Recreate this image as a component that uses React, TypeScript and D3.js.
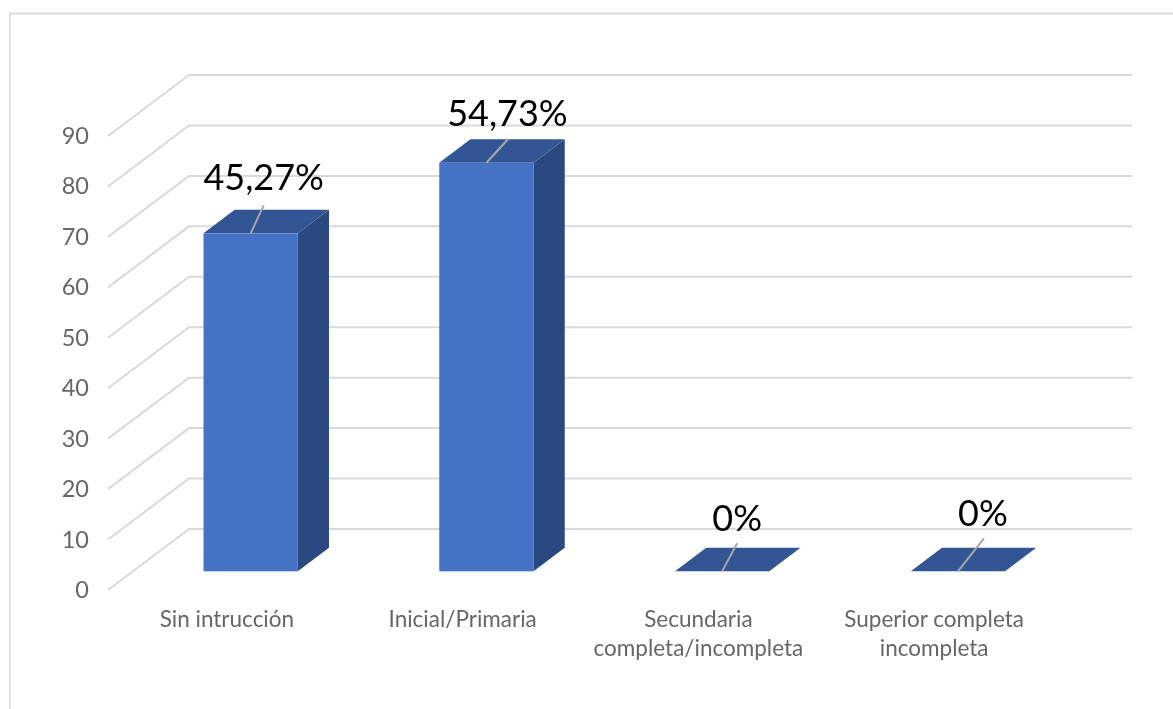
import React, { useEffect, useRef } from 'react';
import * as d3 from 'd3';

const categories = ['Sin intrucción', 'Inicial/Primaria', 'Secundaria completa/incompleta', 'Superior completa incompleta'];
const counts = [67, 81, 0, 0];
const labels = ['45,27%', '54,73%', '0%', '0%'];
const yTicks = [0, 10, 20, 30, 40, 50, 60, 70, 80, 90];

// manual data label placement, relative to the front top centre of each bar
const leaderEnds = [[13, -28], [22, -24], [15, -28], [26, -33]];
const labelShifts = [[13, -55], [21, -49], [15, -52], [25, -57]];

const width = 1173;
const height = 709;

// greedy wrap for the category names
const wrapName = (name: string, maxChars: number) => {
  const rows: string[] = [];
  name.split(' ').forEach(word => {
    const last = rows[rows.length - 1];
    if (last && (last + ' ' + word).length <= maxChars) rows[rows.length - 1] = last + ' ' + word;
    else rows.push(word);
  });
  return rows;
};

const App: React.FC = () => {
  const svgRef = useRef<SVGSVGElement>(null);

  useEffect(() => {
    if (!svgRef.current) return;

    const svg = d3.select(svgRef.current);
    svg.selectAll('*').remove();
    svg.attr('width', width).attr('height', height);

    const font = 'Lato, "Open Sans", sans-serif';

    // the reference is a slightly soft screenshot
    svg.append('defs').append('filter')
      .attr('id', 'soft')
      .attr('x', 0).attr('y', 0).attr('width', '100%').attr('height', '100%')
      .append('feGaussianBlur')
      .attr('stdDeviation', 0.45);

    const root = svg.append('g').attr('filter', 'url(#soft)');

    // chart frame, cut off by the screenshot on the right and bottom
    root.append('path')
      .attr('d', `M9.5,${height}V13.5H${width}`)
      .attr('fill', 'none')
      .attr('stroke', '#d9d9d9')
      .attr('stroke-width', 2);

    // 3D projection of the plot: wall is shifted from the front plane
    const wallDx = 81;
    const wallDy = -61;
    const barDepth = 0.385;
    const barOffset = 0.306;

    const x = d3.scaleBand<string>()
      .domain(categories)
      .range([108, 1051])
      .paddingInner(0.6)
      .paddingOuter(0.3);

    const y = d3.scaleLinear().domain([0, 90]).range([590, 136]);

    // Gridlines
    root.append('g').selectAll('path')
      .data(yTicks)
      .enter().append('path')
      .attr('d', d => `M108,${y(d)}l${wallDx},${wallDy}H1132`)
      .attr('fill', 'none')
      .attr('stroke', '#d9d9d9')
      .attr('stroke-width', 2);

    // Axes
    const yAxis = root.append('g')
      .attr('transform', 'translate(95,0)')
      .call(d3.axisLeft(y).tickValues(yTicks).tickSize(0).tickPadding(6));
    yAxis.select('.domain').remove();
    yAxis.selectAll('text')
      .style('font-family', font)
      .style('font-size', '23.5px')
      .style('fill', '#666666');

    const xAxis = root.append('g')
      .attr('transform', 'translate(1,0)')
      .call(d3.axisBottom(x).tickSize(0));
    xAxis.select('.domain').remove();
    xAxis.selectAll<SVGTextElement, string>('text')
      .style('font-family', font)
      .style('font-size', '22.5px')
      .style('fill', '#666666')
      .attr('y', 0)
      .attr('dy', null)
      .each(function (d) {
        const el = d3.select(this);
        el.text(null);
        wrapName(d, 20).forEach((row, i) => {
          el.append('tspan').attr('x', 0).attr('y', 627 + i * 29).text(row);
        });
      });

    // Bars
    const dx0 = wallDx * barOffset;
    const dy0 = wallDy * barOffset;
    const dx = wallDx * barDepth;
    const dy = wallDy * barDepth;
    const bw = x.bandwidth();

    const bars = root.append('g').selectAll('g')
      .data(categories.map((c, i) => ({ c, value: counts[i], label: labels[i], i })))
      .enter().append('g')
      .attr('transform', d => `translate(${x(d.c)! + dx0},${dy0})`);

    bars.append('path')
      .attr('d', d => `M${bw},${y(d.value)}l${dx},${dy}V${y(0) + dy}l${-dx},${-dy}Z`)
      .attr('fill', '#2a4a80');

    bars.append('path')
      .attr('d', d => `M0,${y(d.value)}l${dx},${dy}h${bw}l${-dx},${-dy}Z`)
      .attr('fill', '#335593');

    bars.append('rect')
      .attr('x', 0)
      .attr('y', d => y(d.value))
      .attr('width', bw)
      .attr('height', d => y(0) - y(d.value))
      .attr('fill', '#4472c4');

    // Leader lines and data labels
    bars.append('line')
      .attr('x1', bw / 2)
      .attr('y1', d => y(d.value))
      .attr('x2', d => bw / 2 + leaderEnds[d.i][0])
      .attr('y2', d => y(d.value) + leaderEnds[d.i][1])
      .attr('stroke', '#a6a6a6')
      .attr('stroke-width', 2);

    bars.append('text')
      .attr('x', d => bw / 2 + labelShifts[d.i][0])
      .attr('y', d => y(d.value) + labelShifts[d.i][1] + 12)
      .attr('text-anchor', 'middle')
      .style('font-family', font)
      .style('font-size', '36px')
      .style('fill', '#000000')
      .text(d => d.label);
  }, []);

  return <svg ref={svgRef} style={{ position: 'absolute', left: 0, top: 0, background: '#ffffff' }}></svg>;
};

export default App;
